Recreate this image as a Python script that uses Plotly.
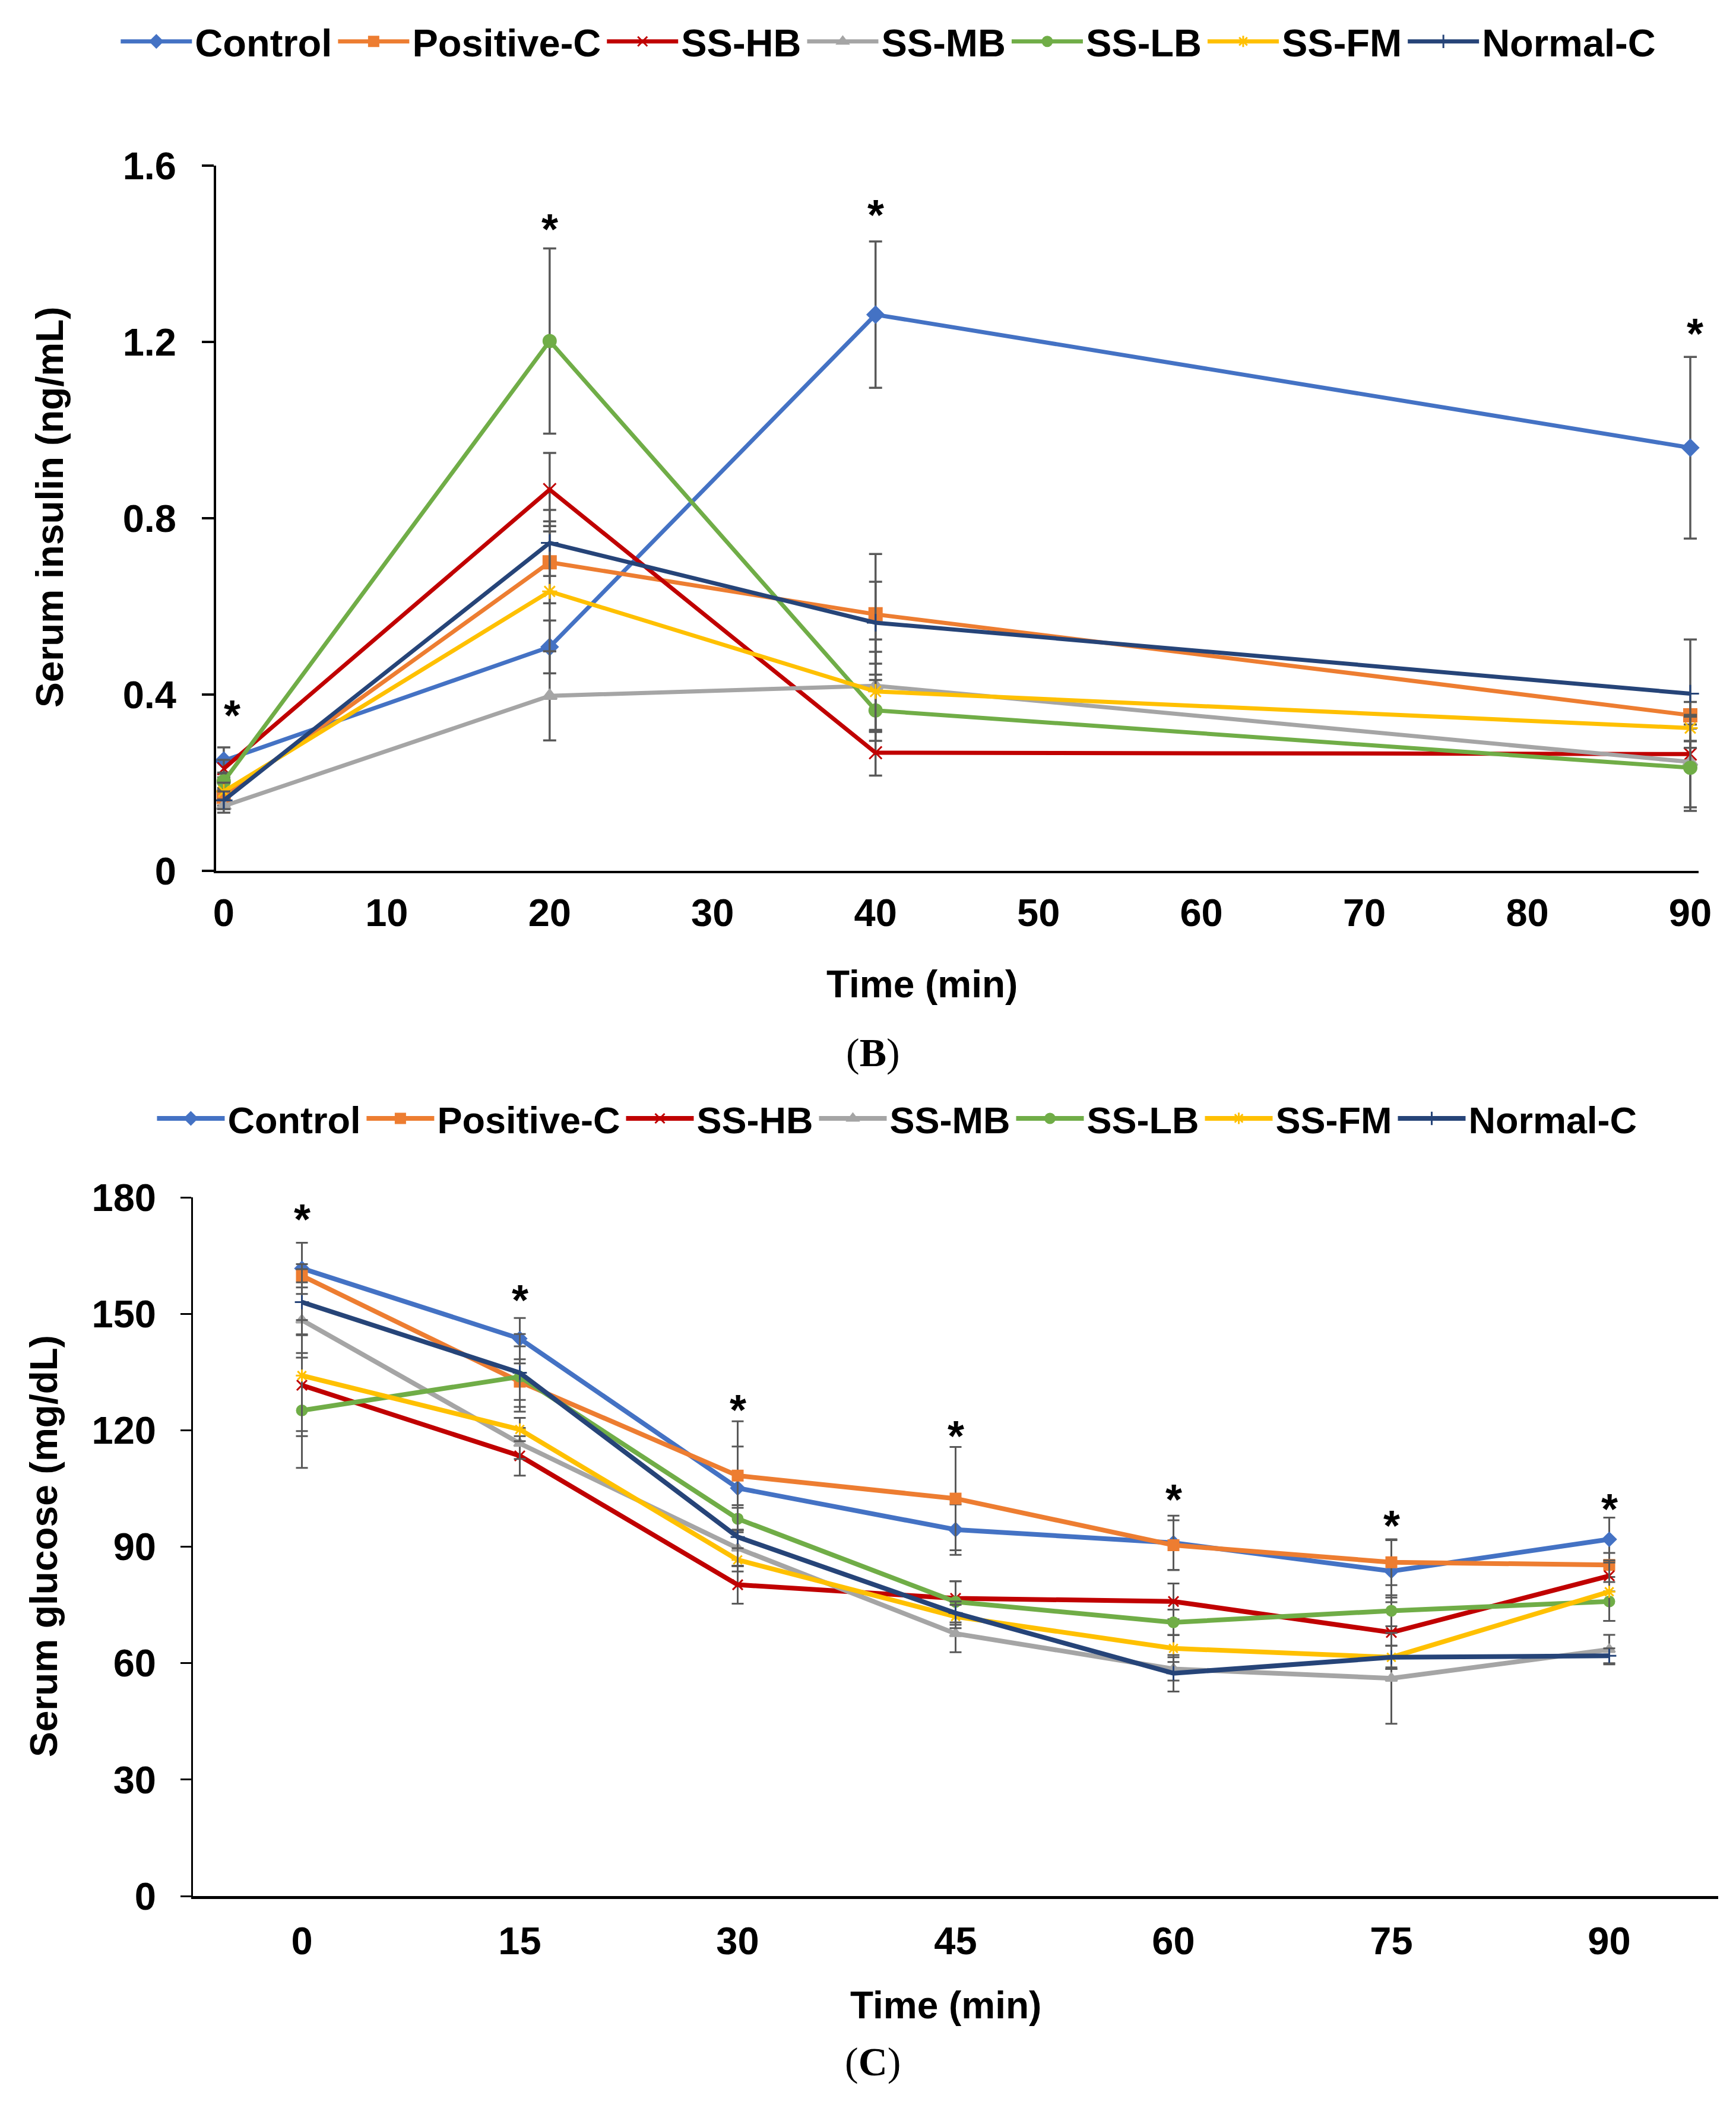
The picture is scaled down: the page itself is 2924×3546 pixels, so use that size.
import plotly.graph_objects as go

# ---- data ----
series = ["Control", "Positive-C", "SS-HB", "SS-MB", "SS-LB", "SS-FM", "Normal-C"]
colors = ["#4472C4", "#ED7D31", "#C00000", "#A5A5A5", "#70AD47", "#FFC000", "#264478"]
symbols = ["diamond", "square", "x-thin-open", "triangle-up", "circle", "asterisk-open", "cross-thin-open"]

# (B) serum insulin (ng/mL)
ins_time = [0, 20, 40, 90]
ins_control = [0.250, 0.508, 1.262, 0.960]
ins_positive = [0.168, 0.700, 0.582, 0.353]
ins_hb = [0.232, 0.865, 0.268, 0.265]
ins_mb = [0.147, 0.397, 0.420, 0.247]
ins_lb = [0.203, 1.202, 0.364, 0.234]
ins_fm = [0.180, 0.634, 0.407, 0.324]
ins_normal = [0.160, 0.744, 0.563, 0.402]

ins_sd_control = [0.030, 0.060, 0.166, 0.206]
ins_sd_positive = [0.020, 0.093, 0.137, 0.030]
ins_sd_hb = [0.020, 0.083, 0.052, 0.030]
ins_sd_mb = [0.015, 0.101, 0.105, 0.103]
ins_sd_lb = [0.020, 0.210, 0.069, 0.098]
ins_sd_fm = [0.020, 0.136, 0.090, 0.030]
ins_sd_normal = [0.020, 0.075, 0.093, 0.123]

ins_star_x = [0.5, 20, 40, 90.3]
ins_star_y = [0.355, 1.458, 1.491, 1.221]

# (C) serum glucose (mg/dL)
glu_time = [0, 15, 30, 45, 60, 75, 90]
glu_control = [161.7, 143.6, 105.1, 94.4, 91.0, 83.7, 91.9]
glu_positive = [159.8, 132.5, 108.3, 102.4, 90.4, 86.0, 85.3]
glu_hb = [131.6, 113.4, 80.2, 76.7, 75.9, 67.9, 82.5]
glu_mb = [148.4, 116.6, 89.6, 67.6, 58.5, 56.1, 63.5]
glu_lb = [125.1, 133.8, 97.2, 75.8, 70.5, 73.5, 75.9]
glu_fm = [134.1, 120.2, 86.6, 72.0, 63.8, 61.5, 78.4]
glu_normal = [153.0, 134.8, 92.5, 72.9, 57.4, 61.5, 61.9]

glu_sd_control = [6.6, 5.3, 10.7, 6.5, 7.0, 8.0, 5.6]
glu_sd_positive = [3.0, 4.7, 14.0, 13.3, 6.4, 5.9, 3.1]
glu_sd_hb = [13.1, 5.1, 4.9, 4.4, 4.6, 9.0, 4.0]
glu_sd_mb = [9.7, 4.0, 4.6, 4.8, 3.0, 11.7, 3.8]
glu_sd_lb = [14.8, 7.8, 3.5, 5.3, 3.3, 4.0, 5.0]
glu_sd_fm = [14.3, 3.0, 3.0, 3.0, 3.5, 3.0, 7.5]
glu_sd_normal = [8.5, 10.0, 7.5, 3.0, 4.7, 3.0, 1.9]

glu_star_x = [0, 15, 30, 45, 60, 75, 90]
glu_star_y = [175.3, 154.5, 126.2, 119.4, 103.0, 96.3, 100.7]

ins_values = [ins_control, ins_positive, ins_hb, ins_mb, ins_lb, ins_fm, ins_normal]
ins_sds = [ins_sd_control, ins_sd_positive, ins_sd_hb, ins_sd_mb, ins_sd_lb, ins_sd_fm, ins_sd_normal]
glu_values = [glu_control, glu_positive, glu_hb, glu_mb, glu_lb, glu_fm, glu_normal]
glu_sds = [glu_sd_control, glu_sd_positive, glu_sd_hb, glu_sd_mb, glu_sd_lb, glu_sd_fm, glu_sd_normal]

W, H = 2924, 3546
FONT = "Liberation Sans, Arial, sans-serif"
SERIF = "Liberation Serif, Times New Roman, serif"
ERR = "#595959"

fig = go.Figure()

for i, name in enumerate(series):
    c = colors[i]
    fig.add_trace(go.Scatter(
        x=ins_time, y=ins_values[i], name=name, mode="lines+markers",
        line=dict(color=c, width=7),
        marker=dict(symbol=symbols[i], size=21, color=c, line=dict(color=c, width=3)),
        error_y=dict(type="data", array=ins_sds[i], color=ERR, thickness=3.5, width=11),
        cliponaxis=False, xaxis="x", yaxis="y", legend="legend",
    ))

for i, name in enumerate(series):
    c = colors[i]
    fig.add_trace(go.Scatter(
        x=glu_time, y=glu_values[i], name=name, mode="lines+markers",
        line=dict(color=c, width=8),
        marker=dict(symbol=symbols[i], size=17, color=c, line=dict(color=c, width=3)),
        error_y=dict(type="data", array=glu_sds[i], color=ERR, thickness=3, width=10),
        cliponaxis=False, xaxis="x2", yaxis="y2", legend="legend2",
    ))

tick_font = dict(family=FONT, size=65, color="black", weight="bold")
title_font = dict(family=FONT, size=64, color="black", weight="bold")
star_font = dict(family=FONT, size=72, color="black", weight="bold")

annotations = []
for x, y in zip(ins_star_x, ins_star_y):
    annotations.append(dict(x=x, y=y, xref="x", yref="y", text="*", showarrow=False,
                            xanchor="center", yanchor="middle", font=star_font, yshift=-2))
for x, y in zip(glu_star_x, glu_star_y):
    annotations.append(dict(x=x, y=y, xref="x2", yref="y2", text="*", showarrow=False,
                            xanchor="center", yanchor="middle", font=star_font, yshift=-6))


def paper_text(px, py, text, font, angle=0):
    return dict(x=px / W, y=1 - py / H, xref="paper", yref="paper", text=text,
                textangle=angle, showarrow=False, xanchor="center", yanchor="middle", font=font)


panel_font = dict(family=SERIF, size=68, color="black")
annotations += [
    paper_text(76, 846, "Serum insulin (ng/mL)", title_font, -90),
    paper_text(1545, 1650, "Time (min)", title_font),
    paper_text(1462, 1765, "(<b>B</b>)", panel_font),
    paper_text(66, 2597, "Serum glucose (mg/dL)", title_font, -90),
    paper_text(1585, 3370, "Time (min)", title_font),
    paper_text(1462, 3465, "(<b>C</b>)", panel_font),
]

fig.update_layout(
    width=W, height=H,
    template="plotly_white",
    margin=dict(l=0, r=0, t=0, b=0, autoexpand=False),
    paper_bgcolor="white", plot_bgcolor="white",
    xaxis=dict(domain=[356 / W, 2853 / W], anchor="y", range=[-0.47, 90.51],
               tickvals=list(range(0, 91, 10)), showgrid=False, zeroline=False,
               showline=True, linecolor="black", linewidth=4, ticks="",
               tickfont=tick_font, ticklabelstandoff=11, automargin=False),
    yaxis=dict(domain=[1 - 1459 / H, 1 - 271 / H], anchor="x", range=[0, 1.6],
               tickvals=[0, 0.4, 0.8, 1.2, 1.6], ticktext=["0", "0.4", "0.8", "1.2", "1.6"],
               showgrid=False, zeroline=False, showline=True, linecolor="black", linewidth=4,
               ticks="outside", ticklen=20, tickwidth=4, tickcolor="black",
               tickfont=tick_font, ticklabelstandoff=30, automargin=False),
    xaxis2=dict(domain=[317 / W, 2886 / W], anchor="y2", range=[-7.5, 97.5],
                tickvals=glu_time, showgrid=False, zeroline=False,
                showline=True, linecolor="black", linewidth=5, ticks="",
                tickfont=tick_font, ticklabelstandoff=15, automargin=False),
    yaxis2=dict(domain=[1 - 3186 / H, 1 - 2009 / H], anchor="x2", range=[0, 180],
                tickvals=list(range(0, 181, 30)),
                showgrid=False, zeroline=False, showline=True, linecolor="black", linewidth=3,
                ticks="outside", ticklen=18, tickwidth=3, tickcolor="black",
                tickfont=tick_font, ticklabelstandoff=28, automargin=False),
    legend=dict(orientation="h", x=0.509, xanchor="center", y=1 - 62 / H, yanchor="middle",
                font=dict(family=FONT, size=65, color="black", weight="bold"),
                itemwidth=120, bgcolor="rgba(0,0,0,0)"),
    legend2=dict(orientation="h", x=0.514, xanchor="center", y=1 - 1876 / H, yanchor="middle",
                 font=dict(family=FONT, size=63, color="black", weight="bold"),
                 itemwidth=114, bgcolor="rgba(0,0,0,0)"),
    annotations=annotations,
)

fig.write_html("out.html")
